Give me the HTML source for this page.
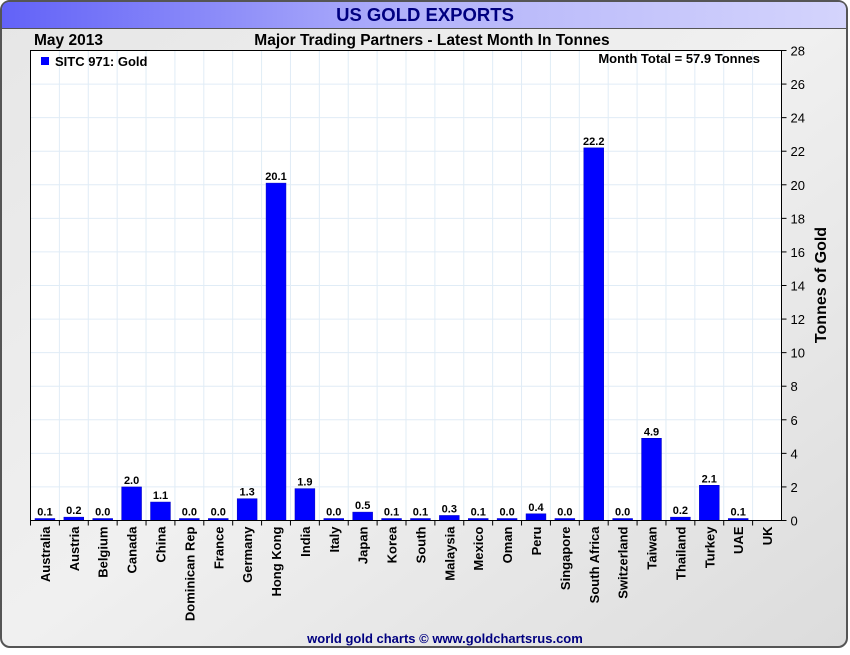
<!DOCTYPE html>
<html><head><meta charset="utf-8"><style>
body{margin:0;width:850px;height:650px;overflow:hidden;background:#fff;font-family:"Liberation Sans",sans-serif}
</style></head><body>
<svg id="c" width="850" height="650" xmlns="http://www.w3.org/2000/svg">
<defs>
<linearGradient id="tb" x1="0" x2="1" y1="0" y2="0"><stop offset="0" stop-color="#6262f8"/><stop offset="0.5" stop-color="#b4b4fa"/><stop offset="1" stop-color="#d4d4fc"/></linearGradient>
<linearGradient id="bg" x1="0" x2="1" y1="0" y2="1"><stop offset="0" stop-color="#e6e6e6"/><stop offset="0.5" stop-color="#f0f0f0"/><stop offset="1" stop-color="#dcdcdc"/></linearGradient>
</defs>
<rect x="1" y="1" width="846" height="646" rx="9" fill="url(#bg)" stroke="#555" stroke-width="2"/>
<path d="M2,28 L2,10 Q2,2 10,2 L838,2 Q846,2 846,10 L846,28 Z" fill="url(#tb)"/>
<line x1="2" y1="28.5" x2="846" y2="28.5" stroke="#555"/>
<text x="425" y="21" text-anchor="middle" font-size="18.5" font-weight="bold" fill="#000080">US GOLD EXPORTS</text>
<text x="34" y="45" font-size="15.5" font-weight="bold">May 2013</text>
<text x="432" y="45" text-anchor="middle" font-size="15.5" font-weight="bold">Major Trading Partners - Latest Month In Tonnes</text>
<rect x="30.5" y="50.5" width="751" height="470" fill="#fff"/>
<g id="grid"></g><g id="bars"></g><g id="axes"></g>
<rect x="30.5" y="50.5" width="751" height="470" fill="none" stroke="#000"/>
<rect x="41" y="57" width="8" height="8" fill="#0000ff"/>
<text x="55" y="66" font-size="13" font-weight="bold">SITC 971: Gold</text>
<text x="760" y="63" text-anchor="end" font-size="13" font-weight="bold">Month Total = 57.9 Tonnes</text>
<text transform="translate(826,285) rotate(-90)" text-anchor="middle" font-size="16" font-weight="bold">Tonnes of Gold</text>
<text x="445" y="643" text-anchor="middle" font-size="13" font-weight="bold" fill="#000080">world gold charts © www.goldchartsrus.com</text>
</svg>
<script>
const categories=["Australia","Austria","Belgium","Canada","China","Dominican Rep","France","Germany","Hong Kong","India","Italy","Japan","Korea","South","Malaysia","Mexico","Oman","Peru","Singapore","South Africa","Switzerland","Taiwan","Thailand","Turkey","UAE","UK"];
const values=[0.1,0.2,0.0,2.0,1.1,0.0,0.0,1.3,20.1,1.9,0.0,0.5,0.1,0.1,0.3,0.1,0.0,0.4,0.0,22.2,0.0,4.9,0.2,2.1,0.1,null];
const yTicks=[0,2,4,6,8,10,12,14,16,18,20,22,24,26,28];
const NS="http://www.w3.org/2000/svg";
const L=30.5,R=781.5,T=50.5,B=520.5,yMax=28;
const bw=(R-L)/categories.length;
const y=v=>B-(v/yMax)*(B-T);
const x=i=>L+i*bw;
function mk(tag,at,parent,txt){const e=document.createElementNS(NS,tag);for(const k in at)e.setAttribute(k,at[k]);if(txt!=null)e.textContent=txt;document.getElementById(parent).appendChild(e);return e;}
yTicks.forEach(t=>{
 const gl=mk('line',{x1:L,x2:R,y1:y(t),y2:y(t),stroke:'#e0ecf6'},'grid');
 
 
 mk('line',{x1:R,x2:R+5,y1:y(t),y2:y(t),stroke:'#000'},'axes');
 const tl=mk('text',{x:R+9,y:y(t)+5,'font-size':13},'axes',t);
 
 
});
categories.forEach((c,i)=>{
 if(i>0){const gl=mk('line',{x1:x(i),x2:x(i),y1:T,y2:B,stroke:'#e0ecf6'},'grid');
 
 }
 mk('line',{x1:x(i),x2:x(i),y1:B,y2:B+5,stroke:'#000'},'axes');
 const cx=x(i)+bw/2;
 const lb=mk('text',{transform:`translate(${cx+5},${B+6}) rotate(-90)`,'text-anchor':'end','font-size':13,'font-weight':'bold'},'axes',c);
 
 
 const v=values[i];
 if(v!=null){
  const h=Math.max(B-y(v),2);
  const r=mk('rect',{x:x(i)+4.5,y:B-h,width:bw-9,height:h,fill:'#0000ff',stroke:'#0000c0','stroke-width':0.5},'bars');
  
  
  const vl=mk('text',{x:cx,y:B-h-3,'text-anchor':'middle','font-size':11,'font-weight':'bold'},'bars',v.toFixed(1));
  
  
 }
});
</script>
</body></html>
